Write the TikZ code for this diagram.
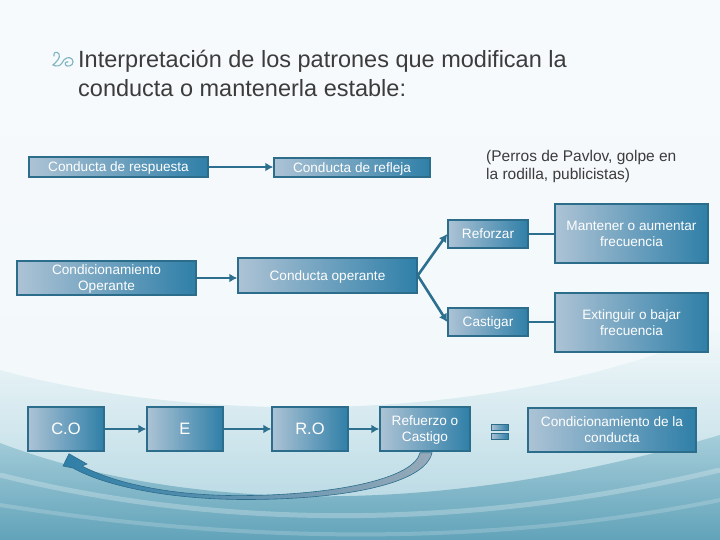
\documentclass[tikz,border=0pt]{standalone}
\usepackage{fontspec}
\setmainfont{Liberation Sans}
\usetikzlibrary{arrows.meta,calc}
\definecolor{boxL}{HTML}{ADC3D5}
\definecolor{boxR}{HTML}{2F7FA8}
\definecolor{boxB}{HTML}{2C6D8C}
\definecolor{arr}{HTML}{2D6F8E}
\definecolor{titlec}{HTML}{3C3C3C}
\definecolor{bulc}{HTML}{7DB3C0}
\definecolor{bgtop}{HTML}{F7FAFC}
\definecolor{bgmid}{HTML}{F1F8FA}
\tikzset{
  box/.style={draw=boxB, line width=1.5pt, left color=boxL, right color=boxR,
    text=white, align=center, inner sep=0pt, text depth=0pt,
    font=\fontsize{13.6}{16}\selectfont},
  conn/.style={draw=arr, line width=2.6pt, -{Latex[length=8pt,width=9pt]}},
  plain/.style={draw=arr, line width=2.6pt}
}
\begin{document}
\begin{tikzpicture}[x=1pt,y=-1pt]
\useasboundingbox (0,0) rectangle (720,540);
% background
\shade[top color=bgtop, bottom color=bgmid] (0,0) rectangle (720,540);
\shade[top color=bgmid, bottom color={rgb,255:red,175;green,212;blue,224}]
  (0,370) .. controls (200,425) and (500,425) .. (720,330) -- (720,540) -- (0,540) -- cycle;
\shade[top color={rgb,255:red,165;green,205;blue,218}, bottom color={rgb,255:red,98;green,163;blue,185}]
  (0,443) .. controls (150,500) and (400,530) .. (720,435) -- (720,540) -- (0,540) -- cycle;
\draw[white, opacity=0.25, line width=5pt] (0,475) .. controls (200,525) and (450,535) .. (720,470);
\draw[white, opacity=0.18, line width=4pt] (0,505) .. controls (250,545) and (500,545) .. (720,500);

% title
\draw[bulc, line width=1.1pt, line cap=round]
  (54,56) .. controls (53,52) and (57,51) .. (59,54)
  .. controls (61,58) and (56,62) .. (53,65)
  .. controls (57,67) and (60,66) .. (62,63)
  .. controls (64,58) and (69,56) .. (72,59)
  .. controls (75,63) and (71,67) .. (67,66)
  .. controls (64,65) and (65,61) .. (68,62);
\node[anchor=base west, text=titlec, font=\fontsize{23.5}{30}\selectfont, inner sep=0pt]
  (title1) at (78,68) {Interpretación de los patrones que modifican la};
\node[anchor=base west, text=titlec, font=\fontsize{23.5}{30}\selectfont, inner sep=0pt]
  (title2) at (78,97) {conducta o mantenerla estable:};

% row 1
\node[box, minimum width=179pt, minimum height=20pt] (resp) at (118.5,167) {Conducta de respuesta};
\node[box, minimum width=156pt, minimum height=19pt] (refl) at (352,167.5) {Conducta de refleja};
\node[anchor=north west, text=titlec, font=\fontsize{15.5}{18.5}\selectfont, align=left, inner sep=0pt]
  (pav) at (486,150) {(Perros de Pavlov, golpe en\\la rodilla, publicistas)};
\draw[conn] (resp.east) -- (resp.east -| refl.west);

% operant part
\node[box, minimum width=179pt, minimum height=34pt] (condop) at (106.5,278) {Condicionamiento\\Operante};
\node[box, minimum width=179pt, minimum height=35pt] (oper) at (327.5,275.5) {Conducta operante};
\node[box, minimum width=80pt, minimum height=28pt] (refz) at (488,234) {Reforzar};
\node[box, minimum width=80pt, minimum height=28pt] (cast) at (488,322) {Castigar};
\node[box, minimum width=153pt, minimum height=59pt] (mant) at (631.5,233.5) {Mantener o aumentar\\frecuencia};
\node[box, minimum width=153pt, minimum height=59pt] (ext) at (631.5,322.5) {Extinguir o bajar\\frecuencia};
\draw[conn] (condop.east) -- (condop.east -| oper.west);
\draw[conn] (oper.east) -- (refz.west);
\draw[conn] (oper.east) -- (cast.west);
\draw[plain] (refz.east) -- (refz.east -| mant.west);
\draw[plain] (cast.east) -- (cast.east -| ext.west);

% bottom row
\node[box, minimum width=76pt, minimum height=44pt, font=\fontsize{16.5}{20}\selectfont] (co) at (66,429) {C.O};
\node[box, minimum width=76pt, minimum height=44pt, font=\fontsize{16.5}{20}\selectfont] (e) at (185,429) {E};
\node[box, minimum width=76pt, minimum height=44pt, font=\fontsize{16.5}{20}\selectfont] (ro) at (310,429) {R.O};
\node[box, minimum width=90pt, minimum height=44pt] (rc) at (425,429) {Refuerzo o\\Castigo};
\node[box, minimum width=168pt, minimum height=44pt] (cond) at (612,430) {Condicionamiento de la\\conducta};
\draw[conn] (co.east) -- (e.west);
\draw[conn] (e.east) -- (ro.west);
\draw[conn] (ro.east) -- (rc.west);

% equals sign
\draw[boxB, line width=1pt, left color=boxL, right color=boxR] (491,424) rectangle (508,430);
\draw[boxB, line width=1pt, left color=boxL, right color=boxR] (491,433) rectangle (508,439);

% curved feedback arrow
\draw[boxB, line width=0.6pt, left color=boxR, middle color=boxR!90!gray, right color={rgb,255:red,150;green,170;blue,185}]
  ($(rc.south)+(-5,1)$) .. controls (414,478) and (340,494) .. (250,495.5)
  .. controls (170,497) and (112,482) .. (82,466)
  -- (87,464) -- ($(co.south)+(3,2)$) -- (63,466) -- (73,468)
  .. controls (105,486) and (170,500) .. (250,499.5)
  .. controls (345,499) and (425,484) .. ($(rc.south)+(7,1)$) -- cycle;
\end{tikzpicture}
\end{document}
